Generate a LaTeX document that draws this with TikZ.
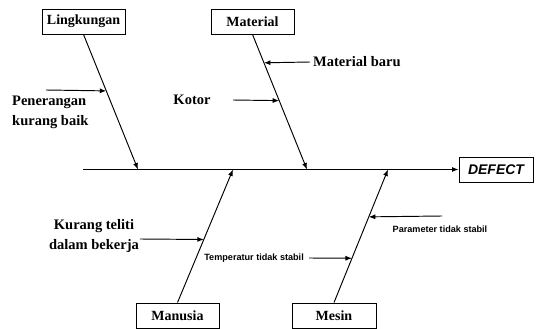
\documentclass[tikz,border=0pt]{standalone}
\usepackage{fontspec}
\setmainfont{Liberation Serif}
\setsansfont{Liberation Sans}
\usetikzlibrary{arrows.meta,calc}

\begin{document}
\begin{tikzpicture}[
  x=1pt, y=-1pt,
  cause/.style={rectangle, draw=black, line width=0.9pt, minimum width=83pt, minimum height=25pt, inner sep=0pt, font=\fontsize{14}{16}\selectfont\bfseries},
  txt/.style={inner sep=0pt, align=left, font=\fontsize{14.5}{20}\selectfont\bfseries},
  small/.style={inner sep=0pt, font=\fontsize{9.1}{10}\selectfont\sffamily\bfseries},
  arrow/.style={-{Latex[length=6.5pt,width=5pt]}, line width=0.95pt}
]
\useasboundingbox (0,0) rectangle (536,329);

\node[cause] (lingkungan) at (83.5,21.5) {Lingkungan};
\node[cause] (material) at (252.5,21.5) {Material};
\node[cause] (manusia) at (177.5,315.5) {Manusia};
\node[cause, minimum width=84pt] (mesin) at (334,315.5) {Mesin};
\node[cause, minimum width=74pt, font=\fontsize{14}{16}\selectfont\sffamily\bfseries\itshape] (defect) at (496,169.5) {DEFECT};

\coordinate (tail) at (83,169.5);
\coordinate (ling) at (138,169.5);
\coordinate (mat) at (307,169.5);
\coordinate (man) at (233,169.5);
\coordinate (mes) at (388,169.5);

\draw[arrow] (tail) -- (defect.west);
\draw[arrow] (lingkungan.south) -- (ling);
\draw[arrow] (material.south) -- (mat);
\draw[arrow] (manusia.north) -- (man);
\draw[arrow] (mesin.north) -- (mes);

\node[txt, anchor=west] (penerangan) at (12,112.5) {Penerangan\\kurang baik};
\node[txt] (kotor) at (192,100) {Kotor};
\node[txt, anchor=west] (baru) at (313,62) {Material baru};
\node[txt, align=center] (teliti) at (94,236.5) {Kurang teliti\\dalam bekerja};
\node[small, anchor=east] (temperatur) at (304,258) {Temperatur tidak stabil};
\node[small] (parameter) at (440,229) {Parameter tidak stabil};

\coordinate (p1) at (46,90);
\coordinate (p2) at (233,100);
\coordinate (p3) at (140,239);
\coordinate (p4) at (442,216);

\draw[arrow] (p1) -- ($(lingkungan.south)!0.418!(ling)$);
\draw[arrow] (p2) -- ($(material.south)!0.49!(mat)$);
\draw[arrow] ([xshift=-3pt]baru.west) -- ($(material.south)!0.21!(mat)$);
\draw[arrow] (p3) -- ($(manusia.north)!0.474!(man)$);
\draw[arrow] ([xshift=5pt]temperatur.east) -- ($(mesin.north)!0.333!(mes)$);
\draw[arrow] (p4) -- ($(mesin.north)!0.644!(mes)$);
\end{tikzpicture}
\end{document}
